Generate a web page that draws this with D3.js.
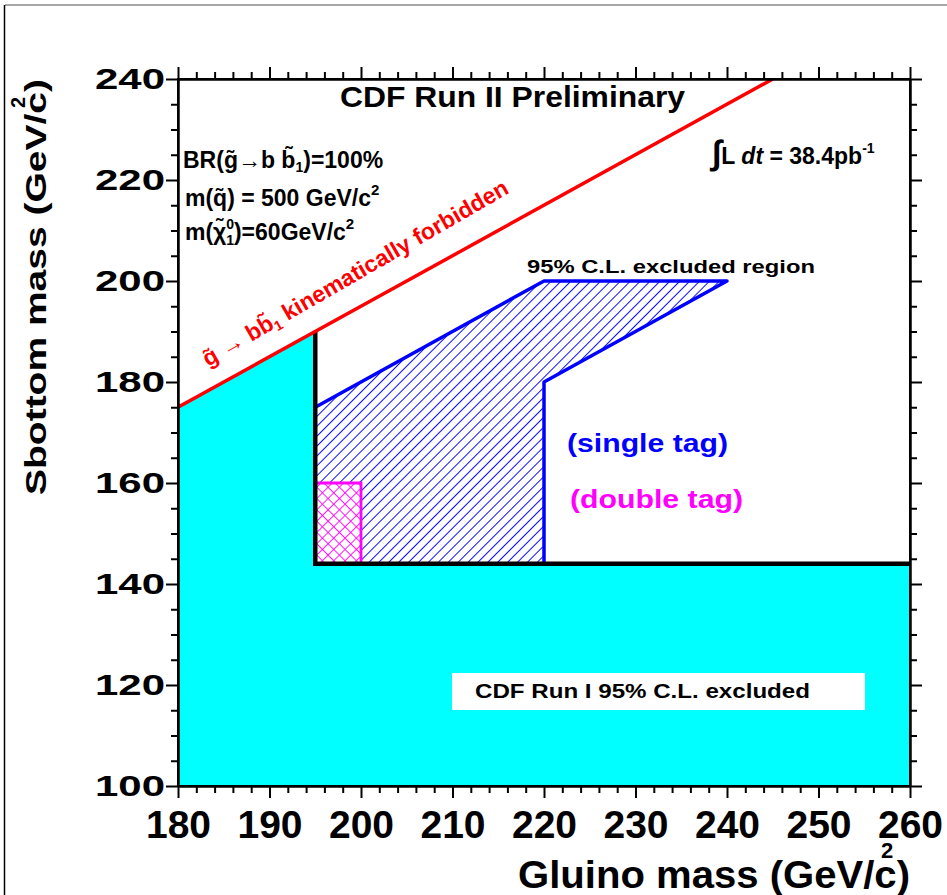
<!DOCTYPE html>
<html>
<head>
<meta charset="utf-8">
<script src="https://cdn.jsdelivr.net/npm/d3@7"></script>
<style>
  body { margin: 0; background: #fff; }
  svg { display: block; font-family: "Liberation Sans", Arial, sans-serif; }
</style>
</head>
<body>
<div id="chart"></div>
<script>
// axis ticks
const xTicks = [180, 190, 200, 210, 220, 230, 240, 250, 260];
const yTicks = [100, 120, 140, 160, 180, 200, 220, 240];

// gluino / sbottom mass regions (GeV/c^2)
const kinematicLimit = [[180, 175], [245, 240]];
const runIExcluded = [[180, 100], [180, 175], [195, 190], [195, 144], [260, 144], [260, 100]];
const runIBoundary = [[195, 190], [195, 144], [260, 144]];
const singleTag = [[195, 175], [220, 200], [240, 200], [220, 180], [220, 144], [195, 144]];
const doubleTag = [[195, 144], [195, 160], [200, 160], [200, 144]];

const width = 947, height = 895;
const x = d3.scaleLinear().domain([180, 260]).range([178, 910]);
const y = d3.scaleLinear().domain([100, 240]).range([786, 79]);

const svg = d3.select("#chart").append("svg")
  .attr("width", width).attr("height", height)
  .attr("viewBox", `0 0 ${width} ${height}`);

// canvas border
svg.append("line").attr("x1", 5).attr("x2", width).attr("y1", 5).attr("y2", 5)
  .attr("stroke", "#888").attr("stroke-width", 1.5);
svg.append("line").attr("x1", 4.5).attr("x2", 4.5).attr("y1", 5).attr("y2", height)
  .attr("stroke", "#000").attr("stroke-width", 1.5);

const defs = svg.append("defs");
defs.append("clipPath").attr("id", "frame")
  .append("rect").attr("x", x(180)).attr("y", y(240))
  .attr("width", x(260) - x(180)).attr("height", y(100) - y(240));

const hatch = defs.append("pattern").attr("id", "hatchBlue")
  .attr("patternUnits", "userSpaceOnUse").attr("width", 7).attr("height", 7)
  .attr("patternTransform", "rotate(45)");
hatch.append("line").attr("x1", 0).attr("y1", 0).attr("x2", 0).attr("y2", 7)
  .attr("stroke", "#0000ff").attr("stroke-width", 1.9);

const cross = defs.append("pattern").attr("id", "crossPink")
  .attr("patternUnits", "userSpaceOnUse").attr("width", 8).attr("height", 8)
  .attr("patternTransform", "rotate(45)");
cross.append("line").attr("x1", 0).attr("y1", 0).attr("x2", 0).attr("y2", 8)
  .attr("stroke", "#ff00ff").attr("stroke-width", 1.8);
cross.append("line").attr("x1", 0).attr("y1", 0).attr("x2", 8).attr("y2", 0)
  .attr("stroke", "#ff00ff").attr("stroke-width", 1.8);

const line = d3.line().x((d) => x(d[0])).y((d) => y(d[1]));
const area = d3.line().x((d) => x(d[0])).y((d) => y(d[1])).curve(d3.curveLinearClosed);
const plot = svg.append("g").attr("clip-path", "url(#frame)");

plot.append("path").datum(runIExcluded)
  .attr("d", area)
  .attr("fill", "#00ffff");

plot.append("path").datum(singleTag)
  .attr("d", area)
  .attr("fill", "url(#hatchBlue)")
  .attr("stroke", "#0000ff").attr("stroke-width", 3.5)
  .attr("stroke-linejoin", "round");

plot.append("path").datum(doubleTag)
  .attr("d", area)
  .attr("fill", "#fff");
plot.append("path").datum(doubleTag)
  .attr("d", area)
  .attr("fill", "url(#crossPink)")
  .attr("stroke", "#ff00ff").attr("stroke-width", 2.8);

plot.append("path").datum(runIBoundary)
  .attr("d", line)
  .attr("fill", "none").attr("stroke", "#000").attr("stroke-width", 4.5);

plot.append("path").datum(kinematicLimit)
  .attr("d", line)
  .attr("fill", "none").attr("stroke", "#ff0000").attr("stroke-width", 3.5);

// axes
function styleAxis(g) {
  g.select(".domain").attr("stroke", "#000").attr("stroke-width", 2);
  g.selectAll(".tick line").attr("stroke", "#000").attr("stroke-width", 2);
}
const xMinor = d3.range(180, 261, 2).filter((v) => v % 10 !== 0);
const yMinor = d3.range(100, 241, 5).filter((v) => v % 20 !== 0);

svg.append("g").attr("transform", `translate(0,${y(100)})`)
  .call(d3.axisBottom(x).tickValues(xMinor).tickSize(7).tickFormat("").tickSizeOuter(0))
  .call(styleAxis);
svg.append("g").attr("transform", `translate(0,${y(240)})`)
  .call(d3.axisTop(x).tickValues(xMinor).tickSize(7).tickFormat("").tickSizeOuter(0))
  .call(styleAxis);
svg.append("g").attr("transform", `translate(0,${y(240)})`)
  .call(d3.axisTop(x).tickValues(xTicks).tickSize(12).tickFormat("").tickSizeOuter(0))
  .call(styleAxis);
svg.append("g").attr("transform", `translate(${x(180)},0)`)
  .call(d3.axisLeft(y).tickValues(yMinor).tickSize(7).tickFormat("").tickSizeOuter(0))
  .call(styleAxis);
svg.append("g").attr("transform", `translate(${x(260)},0)`)
  .call(d3.axisRight(y).tickValues(yMinor).tickSize(7).tickFormat("").tickSizeOuter(0))
  .call(styleAxis);
svg.append("g").attr("transform", `translate(${x(260)},0)`)
  .call(d3.axisRight(y).tickValues(yTicks).tickSize(12).tickFormat("").tickSizeOuter(0))
  .call(styleAxis);

const xAxis = svg.append("g").attr("transform", `translate(0,${y(100)})`)
  .call(d3.axisBottom(x).tickValues(xTicks).tickSize(12).tickPadding(12).tickSizeOuter(0))
  .call(styleAxis);
xAxis.selectAll(".tick text")
  .attr("font-size", 39).attr("font-weight", "bold").attr("fill", "#000")
  .attr("font-family", "Liberation Sans, Arial, sans-serif");

const yAxis = svg.append("g").attr("transform", `translate(${x(180)},0)`)
  .call(d3.axisLeft(y).tickValues(yTicks).tickSize(12).tickPadding(1).tickSizeOuter(0))
  .call(styleAxis);
yAxis.selectAll(".tick text")
  .attr("font-size", 30).attr("font-weight", "bold").attr("fill", "#000")
  .attr("font-family", "Liberation Sans, Arial, sans-serif")
  .attr("textLength", 70).attr("lengthAdjust", "spacingAndGlyphs");

svg.append("rect").attr("x", x(180)).attr("y", y(240))
  .attr("width", x(260) - x(180)).attr("height", y(100) - y(240))
  .attr("fill", "none").attr("stroke", "#000").attr("stroke-width", 2);

// axis titles
svg.append("text").attr("x", 518).attr("y", 888)
  .attr("font-size", 39).attr("font-weight", "bold")
  .attr("textLength", 392).attr("lengthAdjust", "spacingAndGlyphs")
  .text("Gluino mass (GeV/c)");
svg.append("text").attr("x", 881).attr("y", 858)
  .attr("font-size", 22).attr("font-weight", "bold").text("2");

svg.append("text").attr("transform", "translate(46,495) rotate(-90)")
  .attr("font-size", 29).attr("font-weight", "bold")
  .attr("textLength", 416).attr("lengthAdjust", "spacingAndGlyphs")
  .text("Sbottom mass (GeV/c)");
svg.append("text").attr("transform", "translate(25,108) rotate(-90)")
  .attr("font-size", 20).attr("font-weight", "bold").text("2");

// annotations
svg.append("text").attr("x", 340).attr("y", 107)
  .attr("font-size", 30).attr("font-weight", "bold")
  .attr("textLength", 345).attr("lengthAdjust", "spacingAndGlyphs")
  .text("CDF Run II Preliminary");

const info = svg.append("g").attr("font-size", 23).attr("font-weight", "bold");
const l1 = info.append("text").attr("x", 183).attr("y", 168);
l1.append("tspan").text("BR(g\u0303\u2192b b\u0303");
l1.append("tspan").attr("font-size", 14).attr("dy", 4).text("1");
l1.append("tspan").attr("dy", -4).text(")=100%");
const l2 = info.append("text").attr("x", 185).attr("y", 206);
l2.append("tspan").text("m(q\u0303) = 500 GeV/c");
l2.append("tspan").attr("font-size", 15).attr("dy", -11).text("2");
const l3 = info.append("text").attr("x", 185).attr("y", 240);
l3.append("tspan").text("m(\u03c7\u0303");
l3.append("tspan").attr("font-size", 14).attr("dy", 5).text("1");
l3.append("tspan").attr("font-size", 14).attr("dx", -8).attr("dy", -16).text("0");
l3.append("tspan").attr("dy", 11).text(")=60GeV/c");
l3.append("tspan").attr("font-size", 15).attr("dy", -11).text("2");

const lumi = svg.append("text").attr("x", 712).attr("y", 164)
  .attr("font-size", 23).attr("font-weight", "bold");
lumi.append("tspan").attr("font-size", 34).text("\u222b");
lumi.append("tspan").text("L ");
lumi.append("tspan").attr("font-style", "italic").text("dt");
lumi.append("tspan").text(" = 38.4pb");
lumi.append("tspan").attr("font-size", 14).attr("dy", -11).text("-1");

const forb = svg.append("text").attr("transform", "translate(208,367) rotate(-30)")
  .attr("font-size", 23).attr("font-weight", "bold").attr("fill", "#ff0000");
forb.append("tspan").text("g\u0303 \u2192 bb\u0303");
forb.append("tspan").attr("font-size", 14).attr("dy", 4).text("1");
forb.append("tspan").attr("dy", -4).text(" kinematically forbidden");

svg.append("text").attr("x", 527).attr("y", 273)
  .attr("font-size", 19).attr("font-weight", "bold")
  .attr("textLength", 288).attr("lengthAdjust", "spacingAndGlyphs")
  .text("95% C.L. excluded region");
svg.append("text").attr("x", 567).attr("y", 452)
  .attr("font-size", 25).attr("font-weight", "bold").attr("fill", "#0000ff")
  .attr("textLength", 161).attr("lengthAdjust", "spacingAndGlyphs")
  .text("(single tag)");
svg.append("text").attr("x", 570).attr("y", 508)
  .attr("font-size", 25).attr("font-weight", "bold").attr("fill", "#ff00ff")
  .attr("textLength", 173).attr("lengthAdjust", "spacingAndGlyphs")
  .text("(double tag)");

svg.append("rect").attr("x", 452).attr("y", 673).attr("width", 413).attr("height", 37)
  .attr("fill", "#fff");
svg.append("text").attr("x", 475).attr("y", 698)
  .attr("font-size", 21).attr("font-weight", "bold")
  .attr("textLength", 335).attr("lengthAdjust", "spacingAndGlyphs")
  .text("CDF Run I 95% C.L. excluded");
</script>
</body>
</html>
